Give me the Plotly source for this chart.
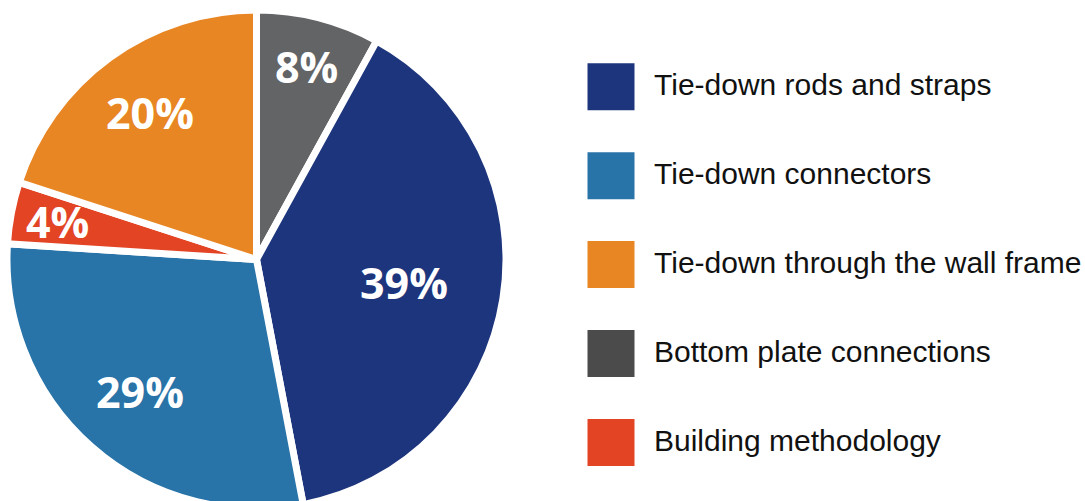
import math
import plotly.graph_objects as go

# Share of responses by tie-down approach
categories = [
    "Tie-down rods and straps",
    "Tie-down connectors",
    "Tie-down through the wall frame",
    "Bottom plate connections",
    "Building methodology",
]
shares = [39, 29, 20, 8, 4]
slice_colors = ["#1d357d", "#2873a8", "#e88623", "#636466", "#e24424"]
swatch_colors = ["#1d357d", "#2873a8", "#e88623", "#4b4b4b", "#e24424"]

# clockwise order of the slices starting at 12 o'clock
pie_order = [3, 0, 1, 4, 2]
# how far out (fraction of the radius) each percentage label sits
label_radius = [0.60, 0.705, 0.728, 0.80, 0.81]

W, H = 1085, 512
cx, cy, R = 256.5, 259.5, 249.5  # pie centre and radius in pixels

fig = go.Figure()
fig.add_trace(go.Pie(
    labels=[categories[i] for i in pie_order],
    values=[shares[i] for i in pie_order],
    marker=dict(colors=[slice_colors[i] for i in pie_order],
                line=dict(color="white", width=7)),
    sort=False,
    direction="clockwise",
    rotation=0,
    textinfo="none",
    hoverinfo="label+percent",
    domain=dict(x=[(cx - R) / W, (cx + R) / W],
                y=[(H - cy - R) / H, (H - cy + R) / H]),
    showlegend=False,
))

annotations, shapes = [], []

# percentage labels at the middle angle of each slice
total = sum(shares)
cum = 0.0
for i in pie_order:
    mid = (cum + shares[i] / 2) / total * 2 * math.pi
    cum += shares[i]
    r = label_radius[i] * R
    px = cx + r * math.sin(mid)
    py = cy - r * math.cos(mid)
    annotations.append(dict(
        text=f"{shares[i]}%", xref="paper", yref="paper",
        x=px / W, y=(H - py) / H, xanchor="center", yanchor="middle",
        showarrow=False,
        font=dict(family="Open Sans", size=43, color="white", weight="bold"),
    ))

# legend: large square swatches with labels
sw = 47
top0 = 63.3
step = 88.9
for k, (name, col) in enumerate(zip(categories, swatch_colors)):
    y_top = top0 + k * step
    shapes.append(dict(
        type="rect", xref="paper", yref="paper",
        x0=587.5 / W, x1=(587.5 + sw) / W,
        y0=(H - y_top - sw) / H, y1=(H - y_top) / H,
        fillcolor=col, line=dict(width=0),
    ))
    annotations.append(dict(
        text=name, xref="paper", yref="paper",
        x=652 / W, y=(H - (y_top + sw / 2 - 2)) / H,
        xanchor="left", yanchor="middle", showarrow=False,
        font=dict(family="Liberation Sans, Arial, sans-serif", size=30, color="#111111"),
    ))

fig.update_layout(
    width=W, height=H,
    margin=dict(l=0, r=0, t=0, b=0),
    paper_bgcolor="white",
    plot_bgcolor="white",
    shapes=shapes,
    annotations=annotations,
)

fig.write_html(
    "out.html",
    post_script="document.body.style.margin='0';document.body.style.overflow='hidden';",
)
